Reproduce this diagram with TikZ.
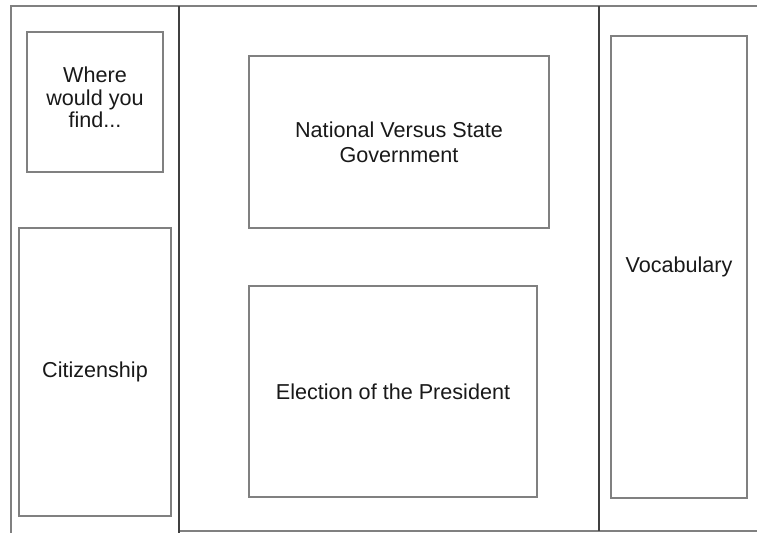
\documentclass[tikz,border=0pt]{standalone}
\usepackage{fontspec}
\setmainfont{Liberation Sans}
\begin{document}
\begin{tikzpicture}[x=0.75pt,y=-0.75pt,
  panel/.style={draw=black!50, line width=1.5pt, fill=white, inner sep=0pt, align=center,
    font=\fontsize{16.2}{19}\selectfont, text=black!90},
  frame/.style={draw=black!50, line width=1.5pt},
  divider/.style={draw=black!75, line width=1.1pt}]
\useasboundingbox (0,0) rectangle (757,533);
% frame lines
\coordinate (tl) at (10,6);
\coordinate (tr) at (757,6);
\coordinate (lb) at (11,533);
\coordinate (lt) at (11,6);
\coordinate (m1t) at (179,6);
\coordinate (m1b) at (179,533);
\coordinate (bl) at (179,531);
\coordinate (br) at (757,531);
\coordinate (m2t) at (599,6);
\coordinate (m2b) at (599,531);
\draw[frame] (tl) -- (tr);
\draw[frame] (lt) -- (lb);
\draw[frame] (bl) -- (br);
\draw[divider] (m1t) -- (m1b);
\draw[divider] (m2t) -- (m2b);
% panels
\node[panel, minimum width=136*0.75pt, minimum height=140*0.75pt] (where) at (95,102) {};
\node[align=center, font=\fontsize{16.2}{17.2}\selectfont, text=black!90, inner sep=0pt] (wheretext) at (where.center) [yshift=3.5pt] {Where\\would you\\find...};
\node[panel, minimum width=152*0.75pt, minimum height=288*0.75pt] (citizen) at (95,372) {Citizenship};
\node[panel, minimum width=300*0.75pt, minimum height=172*0.75pt] (national) at (399,142) {National Versus State\\Government};
\node[panel, minimum width=288*0.75pt, minimum height=211*0.75pt] (election) at (393,391.5) {Election of the President};
\node[panel, minimum width=136*0.75pt, minimum height=462*0.75pt] (vocab) at (679,267) {Vocabulary};
\end{tikzpicture}
\end{document}
